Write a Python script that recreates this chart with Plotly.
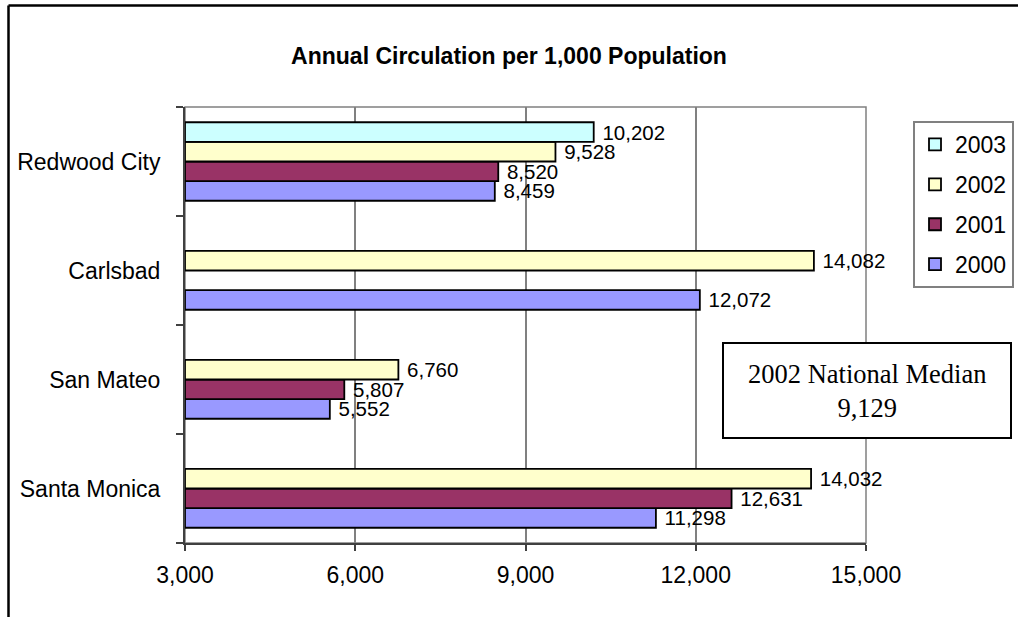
import plotly.graph_objects as go

# Categories listed bottom-to-top as they appear on the vertical axis
cities = ["Santa Monica", "San Mateo", "Carlsbad", "Redwood City"]

# Annual circulation per 1,000 population, by year (None = no data)
circ_2000 = [11298, 5552, 12072, 8459]
circ_2001 = [12631, 5807, None, 8520]
circ_2002 = [14032, 6760, 14082, 9528]
circ_2003 = [None, None, None, 10202]

years = ["2000", "2001", "2002", "2003"]
series = [circ_2000, circ_2001, circ_2002, circ_2003]
colors = ["#9999FF", "#993366", "#FFFFCC", "#CCFFFF"]

x_ticks = [3000, 6000, 9000, 12000, 15000]
axis_start = 3000

median_label = "2002 National Median"
median_value = 9129

W, H = 1018, 617
L, R, T, B = 185, 866, 107, 543  # plot-area edges in pixels


def px_x(p):
    return (p - L) / (R - L)


def px_y(p):
    return (B - p) / (B - T)


font_sans = "Liberation Sans, Arial, sans-serif"

fig = go.Figure()
for i, (yr, vals, col) in enumerate(zip(years, series, colors)):
    fig.add_trace(go.Bar(
        name=yr,
        y=cities,
        x=[None if v is None else v - axis_start for v in vals],
        base=axis_start,
        customdata=vals,
        orientation="h",
        marker=dict(color=col, line=dict(color="black", width=1.8)),
        texttemplate=" %{customdata:,.0f}",
        textposition="outside",
        textfont=dict(family=font_sans, size=20.5, color="black"),
        constraintext="none",
        cliponaxis=False,
        legendgroup=yr,
        legendrank=len(years) - i,
    ))

shapes = [
    # plot-area frame (gray)
    dict(type="rect", xref="paper", yref="paper", x0=0, x1=1, y0=0, y1=1,
         line=dict(color="#808080", width=1.5), layer="below"),
    # chart-area frame (left and top edges)
    dict(type="line", xref="paper", yref="paper",
         x0=px_x(8.5), x1=px_x(8.5), y0=px_y(5.5), y1=px_y(640),
         line=dict(color="black", width=2.5)),
    dict(type="line", xref="paper", yref="paper",
         x0=px_x(8.5), x1=px_x(1040), y0=px_y(5.5), y1=px_y(5.5),
         line=dict(color="black", width=2.5)),
    # national median callout box
    dict(type="rect", xref="paper", yref="paper",
         x0=px_x(723), x1=px_x(1011), y0=px_y(438), y1=px_y(343),
         fillcolor="white", line=dict(color="black", width=2), layer="above"),
]

fig.update_layout(
    width=W, height=H,
    margin=dict(l=L, r=W - R, t=T, b=H - B, pad=0, autoexpand=False),
    paper_bgcolor="white", plot_bgcolor="white",
    barmode="group", bargap=0.28, bargroupgap=0,
    font=dict(family=font_sans, size=23, color="black"),
    title=dict(text="<b>Annual Circulation per 1,000 Population</b>",
               x=0.5, xanchor="center", xref="container",
               y=1 - 56 / H, yanchor="middle", yref="container",
               font=dict(family=font_sans, size=23, color="black")),
    xaxis=dict(range=[axis_start, 15000], tickvals=x_ticks,
               tickformat=",d", showgrid=True, gridcolor="#808080",
               gridwidth=1.5, zeroline=False, showline=True,
               linecolor="#404040", linewidth=2, ticks="outside",
               ticklen=6, tickcolor="#404040", tickwidth=1.5,
               ticklabelstandoff=4, tickfont=dict(size=23)),
    yaxis=dict(categoryorder="array", categoryarray=cities,
               showgrid=False, zeroline=False, showline=True,
               linecolor="#404040", linewidth=2, ticks="outside",
               tickson="boundaries", ticklen=7, tickcolor="#404040",
               tickwidth=1.5, ticklabelstandoff=18, tickfont=dict(size=23)),
    legend=dict(x=px_x(913), y=px_y(121), xanchor="left", yanchor="top",
                traceorder="grouped", tracegroupgap=7,
                bordercolor="#808080", borderwidth=2, bgcolor="white",
                font=dict(family=font_sans, size=23)),
    shapes=shapes,
    annotations=[dict(
        xref="paper", yref="paper", x=px_x(867), y=px_y(390.5),
        text=f"{median_label}<br>{median_value:,}", showarrow=False,
        xanchor="center", yanchor="middle", align="center",
        font=dict(family="Liberation Serif, Times New Roman, serif",
                  size=26.5, color="black"),
    )],
)

fig.write_html("out.html")
